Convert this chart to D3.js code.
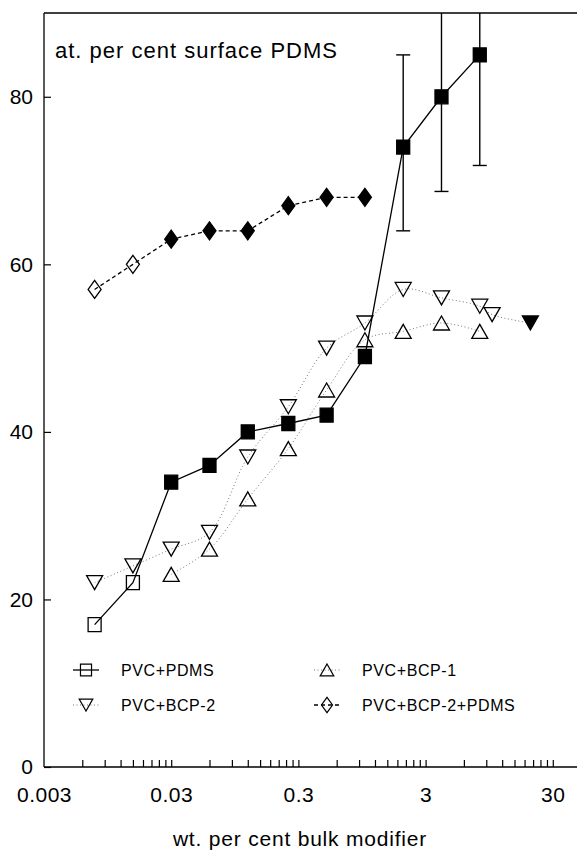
<!DOCTYPE html>
<html>
<head>
<meta charset="utf-8">
<script src="https://cdn.jsdelivr.net/npm/d3@7"></script>
<style>
  body { margin: 0; background: #fff; }
  svg { display: block; font-family: "Liberation Sans", Arial, sans-serif; }
  .domain { stroke: #000; stroke-width: 1.3; }
  .tick line { stroke: #000; stroke-width: 1.2; }
  .tick text { fill: #000; }
</style>
</head>
<body>
<div id="chart"></div>
<script>
// ---- data ----
var seriesNames = ["PVC+PDMS", "PVC+BCP-1", "PVC+BCP-2", "PVC+BCP-2+PDMS"];

var pdmsX = [0.0075, 0.015, 0.03, 0.06, 0.12, 0.25, 0.5, 1, 2, 4, 8];
var pdmsY = [17, 22, 34, 36, 40, 41, 42, 49, 74, 80, 85];
var pdmsErrLow = [null, null, null, null, null, null, null, null, 64, 68.7, 71.8];
var pdmsErrHigh = [null, null, null, null, null, null, null, null, 85, 91.3, 98];

var bcp1X = [0.03, 0.06, 0.12, 0.25, 0.5, 1, 2, 4, 8];
var bcp1Y = [23, 26, 32, 38, 45, 51, 52, 53, 52];

var bcp2X = [0.0075, 0.015, 0.03, 0.06, 0.12, 0.25, 0.5, 1, 2, 4, 8, 10, 20];
var bcp2Y = [22, 24, 26, 28, 37, 43, 50, 53, 57, 56, 55, 54, 53];

var bcp2pdmsX = [0.0075, 0.015, 0.03, 0.06, 0.12, 0.25, 0.5, 1];
var bcp2pdmsY = [57, 60, 63, 64, 64, 67, 68, 68];

// which points are drawn filled
var pdmsFilled = [0, 0, 1, 1, 1, 1, 1, 1, 1, 1, 1];
var bcp1Filled = [0, 0, 0, 0, 0, 0, 0, 0, 0];
var bcp2Filled = [0, 0, 0, 0, 0, 0, 0, 0, 0, 0, 0, 0, 1];
var bcp2pdmsFilled = [0, 0, 1, 1, 1, 1, 1, 1];

var xLabels = [0.003, 0.03, 0.3, 3, 30];
var yTicks = [0, 20, 40, 60, 80];

// ---- layout ----
var W = 577, H = 856;
var plotL = 44, plotR = 577, plotT = 13, plotB = 767;

var svg = d3.select("#chart").append("svg")
    .attr("width", W)
    .attr("height", H);

var x = d3.scaleLog().domain([0.003, 46.5]).range([plotL, plotR]);
var y = d3.scaleLinear().domain([0, 90]).range([plotB, plotT]);

svg.append("clipPath").attr("id", "plot")
  .append("rect")
    .attr("x", plotL).attr("y", plotT)
    .attr("width", plotR - plotL).attr("height", plotB - plotT);

// minor ticks at multiples of 0.003 in each decade
var minor = [];
[0.003, 0.03, 0.3, 3].forEach(function(b) {
  for (var k = 2; k <= 10; k++) minor.push(b * k);
});

svg.append("g")
    .attr("transform", "translate(0," + plotB + ")")
    .call(d3.axisBottom(x).tickValues(minor).tickSize(-7).tickFormat(""))
    .call(function(g) { g.select(".domain").attr("d", "M" + plotL + ",0H" + plotR); });

svg.append("g")
    .attr("transform", "translate(0," + plotB + ")")
    .call(d3.axisBottom(x).tickValues(xLabels).tickSize(0).tickPadding(20)
      .tickFormat(function(d) { return d < 1 ? d3.format(".3~f")(d) : String(d); }))
    .call(function(g) {
      g.select(".domain").remove();
      g.selectAll("text").attr("font-size", 21).attr("letter-spacing", 0.5);
    });

svg.append("g")
    .attr("transform", "translate(" + plotL + ",0)")
    .call(d3.axisLeft(y).tickValues(yTicks).tickSize(-7).tickPadding(11))
    .call(function(g) {
      g.select(".domain").attr("d", "M0," + plotT + "V" + plotB);
      g.selectAll("text").attr("font-size", 21);
    });

// top frame line
svg.append("line")
    .attr("x1", plotL).attr("x2", plotR)
    .attr("y1", plotT).attr("y2", plotT)
    .attr("stroke", "#000").attr("stroke-width", 1.3);

svg.append("text")
    .attr("x", 55).attr("y", 58)
    .attr("font-size", 22)
    .attr("letter-spacing", 1)
    .text("at. per cent surface PDMS");

svg.append("text")
    .attr("x", 300).attr("y", 846)
    .attr("text-anchor", "middle")
    .attr("font-size", 21)
    .attr("letter-spacing", 0.8)
    .text("wt. per cent bulk modifier");

// ---- marker shapes ----
function markerPath(kind, s) {
  s = s || 1;
  var w, h;
  if (kind == "square") {
    w = 6.5 * s; h = 7 * s;
    return "M" + (-w) + "," + (-h) + "H" + w + "V" + h + "H" + (-w) + "Z";
  }
  if (kind == "diamond") {
    w = 6.5 * s; h = 9 * s;
    return "M0," + (-h) + "L" + w + ",0L0," + h + "L" + (-w) + ",0Z";
  }
  if (kind == "up") {
    w = 8 * s; h = 7 * s;
    return "M0," + (-h) + "L" + w + "," + h + "L" + (-w) + "," + h + "Z";
  }
  // down
  w = 8 * s; h = 7 * s;
  return "M" + (-w) + "," + (-h) + "L" + w + "," + (-h) + "L0," + h + "Z";
}

var series = [
  {xs: bcp1X, ys: bcp1Y, filled: bcp1Filled, marker: "up",
   line: {stroke: "#777", width: 1, dash: "1,2.5", curve: d3.curveCatmullRom}},
  {xs: bcp2X, ys: bcp2Y, filled: bcp2Filled, marker: "down",
   line: {stroke: "#777", width: 1, dash: "1,2.5", curve: d3.curveCatmullRom}},
  {xs: bcp2pdmsX, ys: bcp2pdmsY, filled: bcp2pdmsFilled, marker: "diamond",
   line: {stroke: "#000", width: 1.3, dash: "4,3", curve: d3.curveLinear}},
  {xs: pdmsX, ys: pdmsY, filled: pdmsFilled, marker: "square",
   line: {stroke: "#000", width: 1.3, dash: null, curve: d3.curveLinear}}
];

var plot = svg.append("g").attr("clip-path", "url(#plot)");

// error bars on PVC+PDMS
pdmsX.forEach(function(v, i) {
  if (pdmsErrLow[i] == null) return;
  var cx = x(v);
  plot.append("line")
      .attr("x1", cx).attr("x2", cx)
      .attr("y1", y(pdmsErrLow[i])).attr("y2", y(pdmsErrHigh[i]))
      .attr("stroke", "#000").attr("stroke-width", 1.4);
  [pdmsErrLow[i], pdmsErrHigh[i]].forEach(function(e) {
    plot.append("line")
        .attr("x1", cx - 7).attr("x2", cx + 7)
        .attr("y1", y(e)).attr("y2", y(e))
        .attr("stroke", "#000").attr("stroke-width", 1.4);
  });
});

series.forEach(function(s) {
  var pts = s.xs.map(function(v, i) { return [v, s.ys[i]]; });
  var line = d3.line()
      .x(function(d) { return x(d[0]); })
      .y(function(d) { return y(d[1]); })
      .curve(s.line.curve);
  plot.append("path")
      .attr("d", line(pts))
      .attr("fill", "none")
      .attr("stroke", s.line.stroke)
      .attr("stroke-width", s.line.width)
      .attr("stroke-dasharray", s.line.dash);
});

series.forEach(function(s) {
  plot.selectAll(null)
      .data(s.xs.map(function(v, i) { return {x: v, y: s.ys[i], f: s.filled[i]}; }))
      .enter().append("path")
      .attr("transform", function(d) { return "translate(" + x(d.x) + "," + y(d.y) + ")"; })
      .attr("d", markerPath(s.marker))
      .attr("fill", function(d) { return d.f ? "#000" : "none"; })
      .attr("stroke", "#000")
      .attr("stroke-width", 1.3);
});

// ---- legend ----
var legendRows = [
  {name: seriesNames[0], s: series[3], cx: 86, cy: 670},
  {name: seriesNames[1], s: series[0], cx: 327, cy: 670},
  {name: seriesNames[2], s: series[1], cx: 86, cy: 705},
  {name: seriesNames[3], s: series[2], cx: 327, cy: 705}
];

legendRows.forEach(function(r) {
  var g = svg.append("g").attr("transform", "translate(" + r.cx + "," + r.cy + ")");
  g.append("line")
      .attr("x1", -13).attr("x2", 13)
      .attr("stroke", r.s.line.stroke)
      .attr("stroke-width", r.s.line.width)
      .attr("stroke-dasharray", r.s.line.dash);
  g.append("path")
      .attr("d", markerPath(r.s.marker, 0.85))
      .attr("fill", "none")
      .attr("stroke", "#000")
      .attr("stroke-width", 1.2);
  g.append("text")
      .attr("x", 35).attr("dy", "0.36em")
      .attr("font-size", 16)
      .attr("letter-spacing", 0.6)
      .text(r.name);
});
</script>
</body>
</html>
